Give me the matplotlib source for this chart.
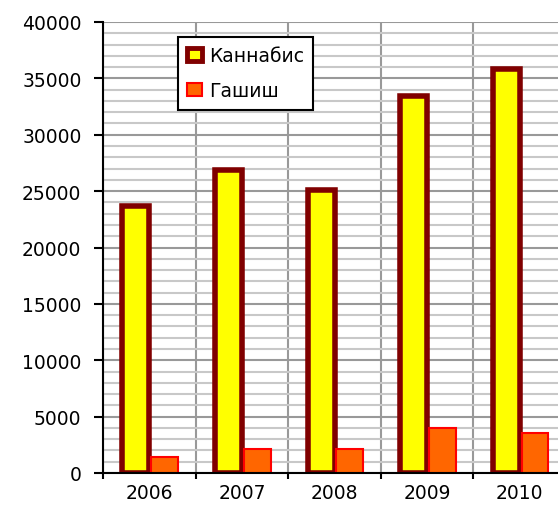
import matplotlib.pyplot as plt
from matplotlib.ticker import MultipleLocator, FixedLocator
from matplotlib.patches import Patch
import numpy as np

plt.rcParams["font.family"] = ["DejaVu Sans"]

years = ["2006", "2007", "2008", "2009", "2010"]
cannabis = [23700, 26900, 25100, 33400, 35800]
hashish = [1450, 2100, 2100, 4000, 3550]

W, H = 558, 506
fig = plt.figure(figsize=(W / 100, H / 100), dpi=100)
# plot area runs past the right edge of the picture, as in the original
left, right, top, bottom = 103, 566, 23, 474
ax = fig.add_axes([left / W, 1 - bottom / H, (right - left) / W, (bottom - top) / H])

x = np.arange(len(years))
bw = 0.29
ax.bar(x - bw / 2, cannabis, bw, color="#ffff00", edgecolor="#800000",
       linewidth=4, zorder=3, label="Каннабис")
ax.bar(x + bw / 2 + 0.02, hashish, bw, color="#ff6600", edgecolor="#ff0000",
       linewidth=1.5, zorder=3, label="Гашиш")

ax.set_xlim(-0.5, len(years) - 0.5)
ax.set_ylim(0, 40000)

ax.yaxis.set_major_locator(MultipleLocator(5000))
ax.yaxis.set_minor_locator(MultipleLocator(1000))
ax.set_xticks(x)
ax.set_xticklabels(years)
ax.xaxis.set_minor_locator(FixedLocator(np.arange(-0.5, len(years), 1)))

ax.grid(axis="y", which="minor", color="#c8c8c8", linewidth=1.5, zorder=0)
ax.grid(axis="y", which="major", color="#999999", linewidth=1.5, zorder=1)
ax.grid(axis="x", which="minor", color="#999999", linewidth=1.5, zorder=1)

ax.tick_params(axis="x", which="major", length=0, labelsize=13.5, pad=7.5)
ax.tick_params(axis="x", which="minor", length=4, width=1.5, direction="out")
ax.tick_params(axis="y", which="major", length=6.5, width=1.5, labelsize=13.5, pad=9)
ax.tick_params(axis="y", which="minor", length=0)

for s in ["top", "right"]:
    ax.spines[s].set_visible(False)
for s in ["left", "bottom"]:
    ax.spines[s].set_linewidth(1.5)
    ax.spines[s].set_zorder(4)

handles = [Patch(facecolor="#ffff00", edgecolor="#800000", linewidth=3.5),
           Patch(facecolor="#ff6600", edgecolor="#ff0000", linewidth=1.5)]
leg = ax.legend(handles, ["Каннабис", "Гашиш"], loc="upper left",
                bbox_to_anchor=((178 - left) / (right - left), (474 - 38) / (bottom - top)),
                fontsize=13.5, frameon=True, fancybox=False, framealpha=1,
                edgecolor="black", handlelength=0.8, handleheight=0.7,
                handletextpad=0.35, labelspacing=0.85, borderpad=0.5, borderaxespad=0)
leg.get_frame().set_linewidth(1.5)
leg.set_zorder(5)

fig.savefig("out.png", dpi=100)
